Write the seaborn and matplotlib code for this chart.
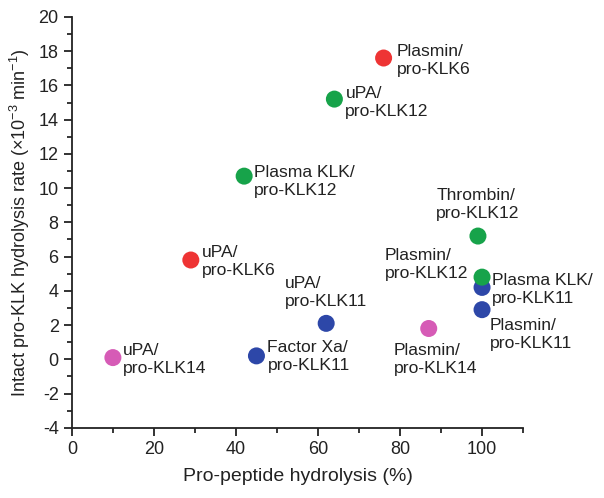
import numpy as np
import pandas as pd
import seaborn as sns
import matplotlib.pyplot as plt

# ------------------------------------------------------------------------------
# Data
# ------------------------------------------------------------------------------
labels = [
    "Plasmin/\npro-KLK6", "uPA/\npro-KLK6",
    "uPA/\npro-KLK12", "Plasma KLK/\npro-KLK12", "Thrombin/\npro-KLK12",
    "uPA/\npro-KLK14", "Plasmin/\npro-KLK14",
    "Factor Xa/\npro-KLK11", "uPA/\npro-KLK11",
    "Plasma KLK/\npro-KLK11", "Plasmin/\npro-KLK11",
    "Plasmin/\npro-KLK12",
]
substrate = ["KLK6", "KLK6",
             "KLK12", "KLK12", "KLK12",
             "KLK14", "KLK14",
             "KLK11", "KLK11", "KLK11", "KLK11",
             "KLK12"]
propeptide = [76, 29, 64, 42, 99, 10, 87, 45, 62, 100, 100, 100]
rate = [17.6, 5.8, 15.2, 10.7, 7.2, 0.1, 1.8, 0.2, 2.1, 4.2, 2.9, 4.8]

# label placement (offset in pixels, horizontal alignment)
offsets = [(13, 2, "left"), (11, 1, "left"),
           (11, 3, "left"), (10, 5, "left"), (0, -32, "center"),
           (10, 2, "left"), (7, 31, "center"),
           (11, 1, "left"), (0, -31, "center"),
           (10, 2, "left"), (8, 25, "left"),
           (-14, -13, "right")]

colors = {"KLK6": "#EE3434", "KLK12": "#17A34A",
          "KLK14": "#D65BB6", "KLK11": "#2D47A8"}

df = pd.DataFrame({"x": propeptide, "y": rate, "Substrate": substrate,
                   "Label": labels})

# ------------------------------------------------------------------------------
# Plot
# ------------------------------------------------------------------------------
sns.set_style("ticks")
plt.rcParams["font.family"] = ["Liberation Sans", "DejaVu Sans"]
plt.rcParams["mathtext.fontset"] = "custom"
plt.rcParams["mathtext.rm"] = "Liberation Sans"
plt.rcParams["mathtext.it"] = "Liberation Sans:italic"
plt.rcParams["axes.unicode_minus"] = False

fig = plt.figure(figsize=(6.04, 4.98), dpi=100)
ax = fig.add_axes([0.119, 0.141, 0.747, 0.825])

sns.scatterplot(data=df, x="x", y="y", hue="Substrate", palette=colors,
                s=150, linewidth=0, legend=False, ax=ax)

for i, row in df.iterrows():
    dx, dy, ha = offsets[i]
    ax.annotate(row["Label"], (row["x"], row["y"]), xytext=(dx, -dy),
                textcoords="offset pixels", ha=ha, va="center",
                multialignment="left", fontsize=12.6, color="#222222",
                linespacing=1.25, annotation_clip=False)

ax.set_xlim(0, 110)
ax.set_ylim(-4, 20)
ax.set_xticks(np.arange(0, 101, 20))
ax.set_xticks(np.arange(10, 111, 20), minor=True)
ax.set_yticks(np.arange(-4, 21, 2))
ax.set_yticks(np.arange(-3, 20, 2), minor=True)
ax.tick_params(which="major", length=6, width=1.3, labelsize=13,
               colors="#222222")
ax.tick_params(which="minor", length=3.5, width=1.3)
for sp in ["left", "bottom"]:
    ax.spines[sp].set_linewidth(1.3)
    ax.spines[sp].set_color("#222222")
sns.despine(ax=ax)

ax.set_xlabel("Pro-peptide hydrolysis (%)", fontsize=14, color="#222222",
              labelpad=7)
ax.set_ylabel(r"Intact pro-KLK hydrolysis rate ($\times$10$^{-3}$ min$^{-1}$)",
              fontsize=13, color="#222222", labelpad=5)

fig.savefig("out.png", dpi=100)
plt.close()
